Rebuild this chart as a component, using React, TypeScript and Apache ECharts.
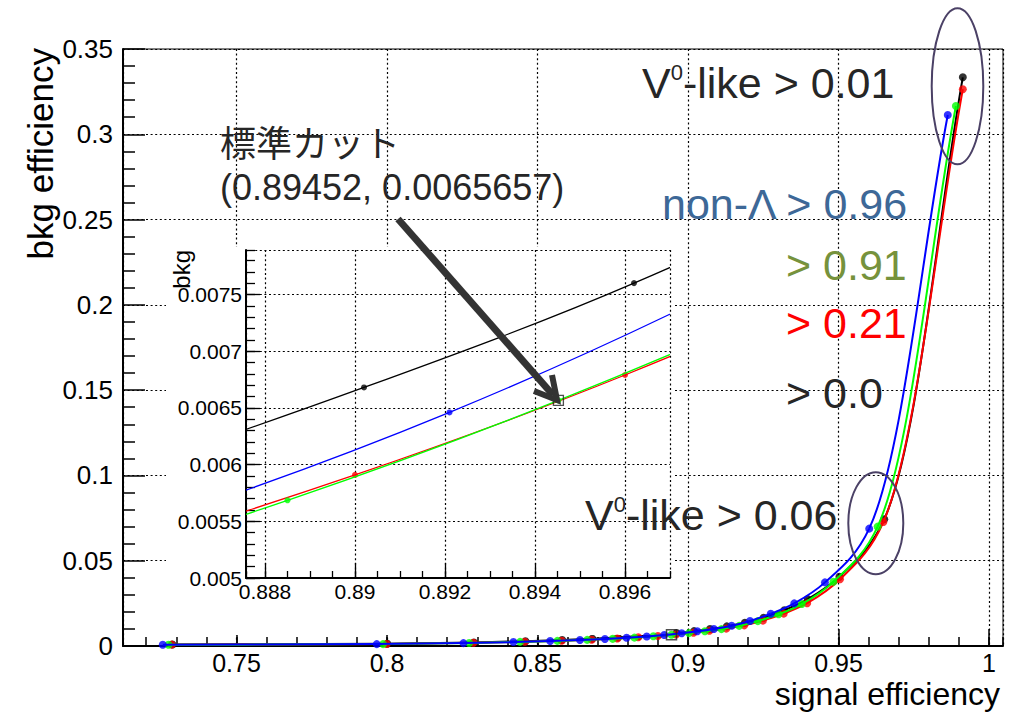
import { useEffect, useRef } from 'react';
import * as echarts from 'echarts';

// ---- data (signal efficiency, bkg efficiency) for each non-Λ cut, V0-like cut steps ----
const blueX = [0.7255, 0.7966, 0.8254, 0.842, 0.8542, 0.8641, 0.8724, 0.8796, 0.8863, 0.8921, 0.8979, 0.9031, 0.9086, 0.9145, 0.9206, 0.9275, 0.9353, 0.9455, 0.9602, 0.9863];
const blueY = [0.0007, 0.0011, 0.0017, 0.0023, 0.0029, 0.0035, 0.0041, 0.0048, 0.0056, 0.00646, 0.0075, 0.0086, 0.01, 0.0119, 0.0147, 0.0189, 0.025, 0.0373, 0.0688, 0.3113];

const greenX = [0.7274, 0.7987, 0.8273, 0.8442, 0.8566, 0.8665, 0.875, 0.8822, 0.8885, 0.89452, 0.9003, 0.9056, 0.9111, 0.917, 0.9232, 0.9301, 0.9378, 0.9483, 0.963, 0.989];
const greenY = [0.0007, 0.0011, 0.0018, 0.0024, 0.003, 0.0036, 0.0042, 0.0049, 0.005685, 0.0065657, 0.00755, 0.0086, 0.0099, 0.0118, 0.0146, 0.0186, 0.0246, 0.0377, 0.07, 0.3166];

const redX = [0.7285, 0.7999, 0.8287, 0.8458, 0.858, 0.868, 0.8765, 0.8835, 0.89, 0.896, 0.9018, 0.9071, 0.9127, 0.9187, 0.9249, 0.9318, 0.9396, 0.9505, 0.9649, 0.9913];
const redY = [0.0008, 0.0012, 0.0019, 0.0025, 0.0031, 0.0037, 0.0044, 0.0051, 0.005909, 0.00679, 0.0078, 0.0089, 0.0102, 0.0121, 0.0149, 0.019, 0.0251, 0.0391, 0.0727, 0.3264];

const blackX = [0.7287, 0.8001, 0.8289, 0.846, 0.8582, 0.8682, 0.8767, 0.8837, 0.8902, 0.8962, 0.902, 0.9073, 0.9129, 0.9189, 0.9251, 0.932, 0.9398, 0.9503, 0.9652, 0.9913];
const blackY = [0.0009, 0.0013, 0.0021, 0.0028, 0.0035, 0.0042, 0.005, 0.0058, 0.00668, 0.0076, 0.0087, 0.01, 0.0115, 0.0136, 0.0166, 0.021, 0.0275, 0.0406, 0.0743, 0.3334];

const stdCutX = [0.89452];
const stdCutY = [0.0065657];

const seriesNames = ['> 0.0', '> 0.21', '> 0.91', '> 0.96'];
const seriesColors = ['#000000', '#ff0000', '#00ff00', '#0000ff'];
const seriesXs = [blackX, redX, greenX, blueX];
const seriesYs = [blackY, redY, greenY, blueY];

const FONT = "'Liberation Sans', Arial, Helvetica, sans-serif";
const JFONT = "'Noto Sans CJK JP', 'Liberation Sans', sans-serif";

const zip = (xs: number[], ys: number[]) => xs.map((x, i) => [x, ys[i]]);

const dotted = { color: '#000', width: 1.2, type: [2, 2.6] as number[] };

// Smooth curve renderer: each data item draws the bezier segment to the next point
// (centripetal Catmull-Rom through the data points, positioned by the axes via api.coord)
function makeSplineRenderer(xs: number[], ys: number[], color: string, width: number) {
  return (params: any, api: any) => {
    const i = params.dataIndex;
    const n = xs.length;
    if (i >= n - 1) return { type: 'group', children: [] };
    const P = (j: number) => {
      const k = Math.max(0, Math.min(n - 1, j));
      return api.coord([xs[k], ys[k]]) as number[];
    };
    const p0 = P(i - 1), p1 = P(i), p2 = P(i + 1), p3 = P(i + 2);
    const dist = (a: number[], b: number[]) => Math.hypot(b[0] - a[0], b[1] - a[1]);
    const d1 = Math.sqrt(dist(p0, p1));
    const d2 = Math.sqrt(dist(p1, p2));
    const d3 = Math.sqrt(dist(p2, p3));
    let c1: number[];
    let c2: number[];
    if (d1 < 1e-6 || d2 < 1e-6) {
      c1 = [p1[0] + (p2[0] - p1[0]) / 3, p1[1] + (p2[1] - p1[1]) / 3];
    } else {
      const den = 3 * d1 * (d1 + d2);
      const w = 2 * d1 * d1 + 3 * d1 * d2 + d2 * d2;
      c1 = [0, 1].map((k) => (d1 * d1 * p2[k] - d2 * d2 * p0[k] + w * p1[k]) / den);
    }
    if (d3 < 1e-6 || d2 < 1e-6) {
      c2 = [p2[0] - (p2[0] - p1[0]) / 3, p2[1] - (p2[1] - p1[1]) / 3];
    } else {
      const den = 3 * d3 * (d3 + d2);
      const w = 2 * d3 * d3 + 3 * d3 * d2 + d2 * d2;
      c2 = [0, 1].map((k) => (d3 * d3 * p1[k] - d2 * d2 * p3[k] + w * p2[k]) / den);
    }
    return {
      type: 'bezierCurve',
      silent: true,
      shape: { x1: p1[0], y1: p1[1], x2: p2[0], y2: p2[1], cpx1: c1[0], cpy1: c1[1], cpx2: c2[0], cpy2: c2[1] },
      style: { stroke: color, lineWidth: width, fill: 'none' },
    };
  };
}

function buildOption(): any {
  const series: any[] = [];
  seriesXs.forEach((xs, i) => {
    const ys = seriesYs[i];
    const data = zip(xs, ys);
    const color = seriesColors[i];
    // main plot
    series.push({
      type: 'custom', name: seriesNames[i], xAxisIndex: 0, yAxisIndex: 0, data, clip: true,
      encode: { x: 0, y: 1 }, renderItem: makeSplineRenderer(xs, ys, color, 2), z: 2 + 2 * i, silent: true,
    });
    series.push({
      type: 'scatter', name: seriesNames[i] + ' pts', xAxisIndex: 0, yAxisIndex: 0, data, clip: true,
      symbol: 'circle', symbolSize: 8, itemStyle: { color }, z: 3 + 2 * i, silent: true,
    });
    // inset
    series.push({
      type: 'custom', name: seriesNames[i] + ' zoom', xAxisIndex: 2, yAxisIndex: 1, data, clip: true,
      encode: { x: 0, y: 1 }, renderItem: makeSplineRenderer(xs, ys, color, 1.3), z: 12 + 2 * i, silent: true,
    });
    series.push({
      type: 'scatter', name: seriesNames[i] + ' zoom pts', xAxisIndex: 2, yAxisIndex: 1, data, clip: true,
      symbol: 'circle', symbolSize: 6, itemStyle: { color }, z: 13 + 2 * i, silent: true,
    });
  });
  const std = zip(stdCutX, stdCutY);
  series.push({
    type: 'scatter', xAxisIndex: 0, yAxisIndex: 0, data: std, symbol: 'rect', symbolSize: 10,
    itemStyle: { color: 'rgba(0,0,0,0)', borderColor: '#222', borderWidth: 1.5 }, z: 11, silent: true,
  });
  series.push({
    type: 'scatter', xAxisIndex: 2, yAxisIndex: 1, data: std, symbol: 'rect', symbolSize: 10,
    itemStyle: { color: 'rgba(0,0,0,0)', borderColor: '#222', borderWidth: 1.3 }, z: 21, silent: true,
  });

  const bigRich = (fill: string) => ({
    a: { fontSize: 43, lineHeight: 43, fontFamily: FONT, fill },
    s: { fontSize: 22, lineHeight: 28, verticalAlign: 'top', fontFamily: FONT, fill },
  });

  return {
    animation: false,
    backgroundColor: '#ffffff',
    grid: [
      { left: 123, top: 49, width: 880, height: 597, show: true, borderColor: '#000', borderWidth: 1, backgroundColor: 'transparent', outerBoundsMode: 'none', containLabel: false },
      { left: 246, top: 250, width: 424, height: 328, show: false, outerBoundsMode: 'none', containLabel: false, z: 9 },
    ],
    xAxis: [
      {
        type: 'value', gridIndex: 0, position: 'bottom', min: 0.71229, max: 1.00465, minInterval: 0.05, maxInterval: 0.05,
        axisLine: { show: true, lineStyle: { color: '#000', width: 2 } },
        axisTick: { show: true, inside: true, length: 17, lineStyle: { color: '#000', width: 1.5 } },
        axisLabel: { show: true, fontSize: 25, lineHeight: 25, color: '#000', fontFamily: FONT, margin: 4, showMinLabel: false, showMaxLabel: false },
        splitLine: { show: true, lineStyle: dotted },
      },
      {
        type: 'value', gridIndex: 0, position: 'bottom', min: 0.71229, max: 1.00465, minInterval: 0.01, maxInterval: 0.01,
        axisLine: { show: false }, axisLabel: { show: false }, splitLine: { show: false },
        axisTick: { show: true, inside: true, length: 9, lineStyle: { color: '#000', width: 1.5 } },
      },
      {
        type: 'value', gridIndex: 1, position: 'bottom', min: 0.887578, max: 0.897, minInterval: 0.002, maxInterval: 0.002, z: 10,
        axisLine: { show: true, lineStyle: { color: '#000', width: 2 } },
        axisTick: { show: true, inside: true, length: 15, lineStyle: { color: '#000', width: 1.3 } },
        axisLabel: { show: true, fontSize: 21, color: '#000', fontFamily: FONT, margin: 3, showMinLabel: false, showMaxLabel: false },
        splitLine: { show: true, lineStyle: dotted },
      },
      {
        type: 'value', gridIndex: 1, position: 'bottom', min: 0.887578, max: 0.897, minInterval: 0.0005, maxInterval: 0.0005, z: 10,
        axisLine: { show: false }, axisLabel: { show: false }, splitLine: { show: false },
        axisTick: { show: true, inside: true, length: 7, lineStyle: { color: '#000', width: 1.3 } },
      },
    ],
    yAxis: [
      {
        type: 'value', gridIndex: 0, position: 'left', min: 0, max: 0.35, interval: 0.05,
        axisLine: { show: true, lineStyle: { color: '#000', width: 2 } },
        axisTick: { show: true, inside: true, length: 22, lineStyle: { color: '#000', width: 1.5 } },
        minorTick: { show: true, splitNumber: 5, length: 12, lineStyle: { color: '#000', width: 1.5 } },
        axisLabel: { show: true, fontSize: 26, color: '#000', fontFamily: FONT, margin: 10 },
        splitLine: { show: true, lineStyle: dotted },
        minorSplitLine: { show: false },
      },
      {
        type: 'value', gridIndex: 1, position: 'left', min: 0.005, max: 0.007892, minInterval: 0.0005, maxInterval: 0.0005, z: 10,
        axisLine: { show: true, lineStyle: { color: '#000', width: 2 } },
        axisTick: { show: true, inside: true, length: 14, lineStyle: { color: '#000', width: 1.3 } },
        axisLabel: { show: true, fontSize: 21, color: '#000', fontFamily: FONT, margin: 4, showMaxLabel: false },
        splitLine: { show: true, lineStyle: dotted },
      },
      {
        type: 'value', gridIndex: 1, position: 'left', min: 0.005, max: 0.007892, minInterval: 0.0001, maxInterval: 0.0001, z: 10,
        axisLine: { show: false }, axisLabel: { show: false }, splitLine: { show: false },
        axisTick: { show: true, inside: true, length: 9, lineStyle: { color: '#000', width: 1.3 } },
      },
    ],
    series,
    graphic: [
      { type: 'rect', z: 5, silent: true, shape: { x: 166, y: 247, width: 507, height: 388 }, style: { fill: '#ffffff' } },
      // axis titles
      { type: 'text', z: 30, x: 1000, y: 694, silent: true, style: { text: 'signal efficiency', fontSize: 32, lineHeight: 32, fontFamily: FONT, fill: '#000', align: 'right', verticalAlign: 'middle' } },
      { type: 'text', z: 30, x: 40, y: 48, rotation: Math.PI / 2, silent: true, style: { text: 'bkg efficiency', fontSize: 35, lineHeight: 32, fontFamily: FONT, fill: '#000', align: 'right', verticalAlign: 'middle' } },
      { type: 'text', z: 30, x: 181, y: 250, rotation: Math.PI / 2, silent: true, style: { text: 'bkg', fontSize: 24, fontFamily: FONT, fill: '#000', align: 'right', verticalAlign: 'middle' } },
      // annotations
      { type: 'text', z: 30, x: 642, y: 83, silent: true, style: { text: '{a|V}{s|0}{a|-like > 0.01}', rich: bigRich('#262626'), align: 'left', verticalAlign: 'middle' } },
      { type: 'text', z: 30, x: 585, y: 515, silent: true, style: { text: '{a|V}{s|0}{a|-like > 0.06}', rich: bigRich('#262626'), align: 'left', verticalAlign: 'middle' } },
      { type: 'text', z: 30, x: 662, y: 204, silent: true, style: { text: 'non-Λ > 0.96', fontSize: 43, fontFamily: FONT, fill: '#3d6897', align: 'left', verticalAlign: 'middle' } },
      { type: 'text', z: 30, x: 786, y: 265, silent: true, style: { text: '> 0.91', fontSize: 43, fontFamily: FONT, fill: '#76923c', align: 'left', verticalAlign: 'middle' } },
      { type: 'text', z: 30, x: 786, y: 323, silent: true, style: { text: '> 0.21', fontSize: 43, fontFamily: FONT, fill: '#ff0000', align: 'left', verticalAlign: 'middle' } },
      { type: 'text', z: 30, x: 786, y: 393, silent: true, style: { text: '> 0.0', fontSize: 43, fontFamily: FONT, fill: '#262626', align: 'left', verticalAlign: 'middle' } },
      { type: 'text', z: 30, x: 220, y: 141, silent: true, style: { text: '標準カット', fontSize: 36, fontFamily: JFONT, fill: '#262626', align: 'left', verticalAlign: 'middle' } },
      { type: 'text', z: 30, x: 220, y: 187, silent: true, style: { text: '(0.89452, 0.0065657)', fontSize: 36, fontFamily: FONT, fill: '#262626', align: 'left', verticalAlign: 'middle' } },
      // ellipses
      { type: 'ellipse', z: 30, silent: true, shape: { cx: 957.5, cy: 86.3, rx: 25.8, ry: 78 }, style: { fill: 'none', stroke: '#4b4166', lineWidth: 2 } },
      { type: 'ellipse', z: 30, silent: true, shape: { cx: 875.8, cy: 523.2, rx: 27.5, ry: 51 }, style: { fill: 'none', stroke: '#4b4166', lineWidth: 2 } },
      // arrow
      { type: 'line', z: 31, silent: true, shape: { x1: 398, y1: 219, x2: 553, y2: 395 }, style: { stroke: '#333333', lineWidth: 7 } },
      { type: 'polyline', z: 31, silent: true, shape: { points: [[552, 375], [557, 400], [534, 391]] }, style: { stroke: '#333333', lineWidth: 6, fill: 'none', lineJoin: 'miter' } },
    ],
  };
}

export default function App() {
  const ref = useRef<HTMLDivElement>(null);
  useEffect(() => {
    if (!ref.current) return;
    const chart = echarts.init(ref.current, null, { renderer: 'svg' });
    chart.setOption(buildOption());
    return () => chart.dispose();
  }, []);
  return (
    <div
      ref={ref}
      style={{ position: 'absolute', left: 0, top: 0, width: 1011, height: 712, background: '#ffffff' }}
    />
  );
}
